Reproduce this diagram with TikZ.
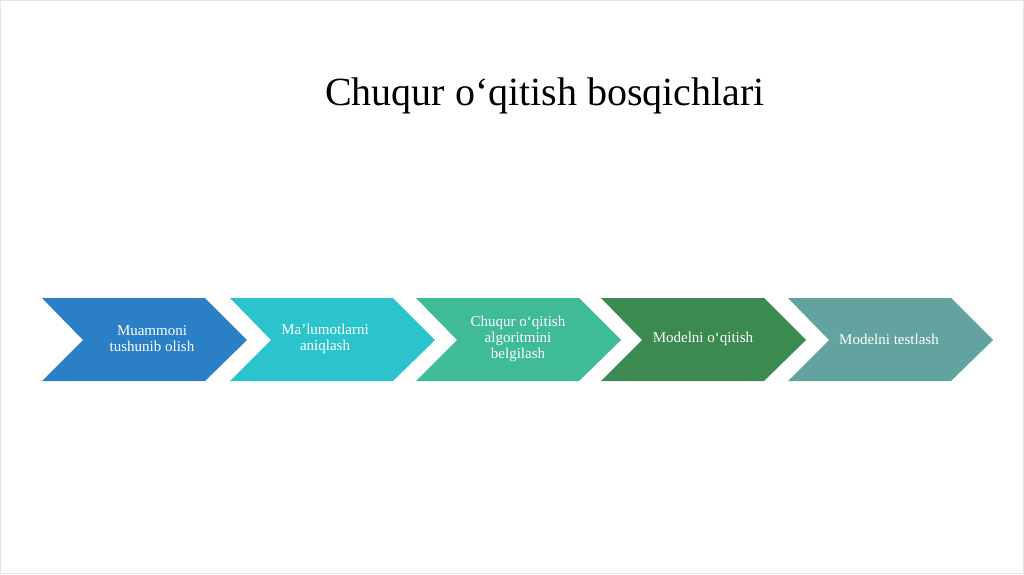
\documentclass[tikz,border=0pt]{standalone}
\usepackage{fontspec}
\setmainfont{Liberation Serif}
\definecolor{c1}{HTML}{2A7FC6}
\definecolor{c2}{HTML}{2CC4CC}
\definecolor{c3}{HTML}{3FBB97}
\definecolor{c4}{HTML}{3B8A52}
\definecolor{c5}{HTML}{62A39F}
\begin{document}
\begin{tikzpicture}[x=1pt,y=-1pt,
  lbl/.style={text=white,font=\fontsize{15}{16}\selectfont,align=center}]
\useasboundingbox (0,0) rectangle (1024,574);
\draw[gray!20] (0.5,0.5) rectangle (1023.5,573.5);
\node[font=\fontsize{40}{44}\selectfont] (title) at (545,96) {Chuqur o‘qitish bosqichlari};
\foreach \x/\c/\o/\t/\n in {42/c1/110/{Muammoni\\tushunib olish}/s1,
  230/c2/95/{Ma’lumotlarni\\aniqlash}/s2,
  416/c3/102/{Chuqur o‘qitish\\algoritmini\\belgilash}/s3,
  601/c4/102/{Modelni o‘qitish}/s4,
  788/c5/101/{Modelni testlash}/s5}{
  \fill[\c] (\x,298) -- ++(163,0) -- ++(42,42) -- ++(-42,41) -- ++(-163,0) -- ++(41,-41) -- cycle;
  \node[lbl] (\n) at (\x+\o,339) {\t};
}
\end{tikzpicture}
\end{document}
